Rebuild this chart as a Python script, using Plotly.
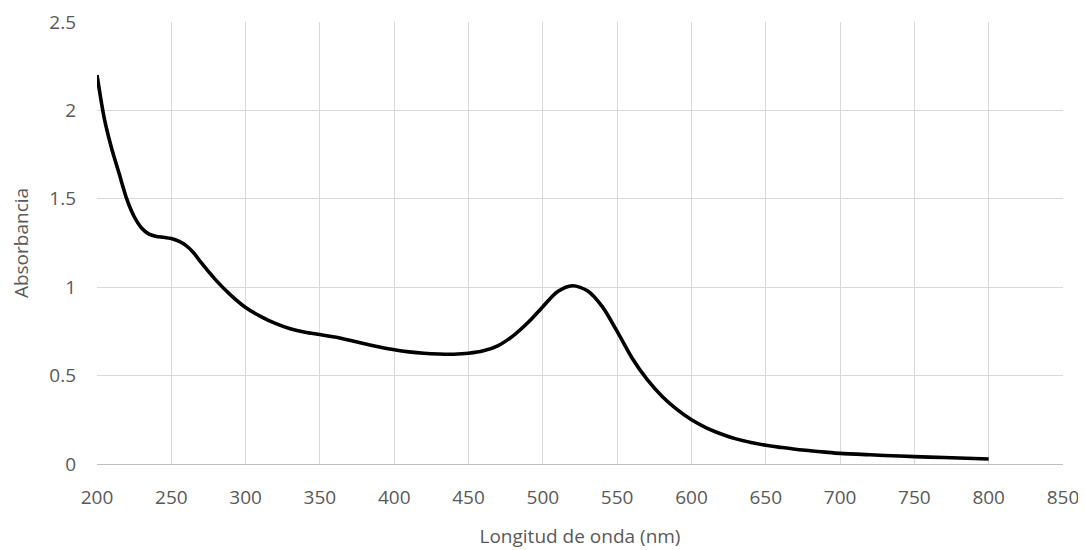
import plotly.graph_objects as go

wavelength = [200, 205, 210, 215, 220, 225, 230, 235, 240, 245, 250, 255, 260, 265, 270,
              280, 290, 300, 310, 320, 330, 340, 350, 360, 370, 380, 390, 400, 410, 420,
              430, 440, 450, 460, 470, 480, 490, 500, 510, 520, 530, 540, 550, 560, 570,
              580, 590, 600, 610, 620, 630, 640, 650, 660, 670, 680, 690, 700, 720, 740,
              760, 780, 800]
absorbance = [2.20, 1.95, 1.78, 1.64, 1.50, 1.40, 1.335, 1.30, 1.287, 1.282, 1.275, 1.26, 1.235,
              1.195, 1.14, 1.04, 0.955, 0.885, 0.835, 0.795, 0.765, 0.745, 0.732, 0.718, 0.70,
              0.68, 0.662, 0.646, 0.634, 0.626, 0.622, 0.621, 0.626, 0.64, 0.67, 0.725, 0.80,
              0.89, 0.975, 1.008, 0.98, 0.89, 0.75, 0.60, 0.48, 0.385, 0.31, 0.25, 0.205,
              0.17, 0.142, 0.122, 0.106, 0.094, 0.083, 0.075, 0.067, 0.06, 0.052, 0.045,
              0.039, 0.034, 0.028]

x_ticks = [200, 250, 300, 350, 400, 450, 500, 550, 600, 650, 700, 750, 800, 850]
y_ticks = [0, 0.5, 1, 1.5, 2, 2.5]
y_tick_text = ["0", "0.5", "1", "1.5", "2", "2.5"]

font_family = "Open Sans, Lato, sans-serif"
text_color = "#595959"
fsize = 19

fig = go.Figure()
fig.add_trace(go.Scatter(
    x=wavelength, y=absorbance, mode="lines",
    line=dict(color="black", width=3.6, shape="spline", smoothing=0.8),
    showlegend=False, hoverinfo="skip",
))

# page body has an 8px margin, so the figure is sized to fit the 1086x550 window
fig.update_layout(
    width=1078, height=542,
    margin=dict(l=89, r=23, t=14, b=86, autoexpand=False),
    paper_bgcolor="white", plot_bgcolor="white",
    font=dict(family=font_family, color=text_color, size=fsize),
    xaxis=dict(
        range=[200, 850], tickvals=x_ticks, showgrid=True, gridcolor="#d9d9d9", gridwidth=1.3,
        zeroline=False, showline=True, linecolor="#bfbfbf", linewidth=1.3,
        ticks="", ticklabelstandoff=16, automargin=False,
        tickfont=dict(size=fsize, color=text_color),
        title=dict(text="Longitud de onda (nm)", font=dict(size=fsize, color=text_color), standoff=20),
    ),
    yaxis=dict(
        range=[0, 2.5], tickvals=y_ticks, ticktext=y_tick_text, showgrid=True,
        gridcolor="#d9d9d9", gridwidth=1.3, zeroline=False, showline=False,
        ticks="", ticklabelstandoff=20, automargin=False,
        tickfont=dict(size=fsize, color=text_color),
        title=dict(text="Absorbancia", font=dict(size=fsize, color=text_color), standoff=20),
    ),
)

fig.write_html("out.html")
